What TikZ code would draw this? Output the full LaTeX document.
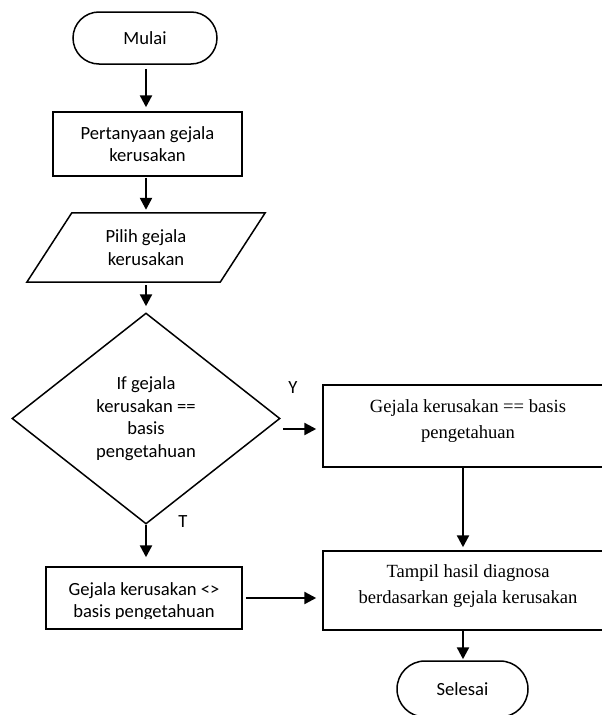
\documentclass[tikz,border=0pt]{standalone}
\usepackage{fontspec}
\setmainfont{Carlito}
\newfontfamily\tnr{Liberation Serif}
\usetikzlibrary{shapes.geometric,shapes.misc,arrows.meta,calc}
\begin{document}
\begin{tikzpicture}[x=1pt,y=-1pt,
  every node/.style={font=\fontsize{18.6}{22.5}\selectfont},
  shp/.style={draw=black, line width=1.5pt},
  boxl/.style={shp, rectangle, inner sep=0pt, align=center},
  term/.style={shp, rounded rectangle, inner sep=0pt},
  serif/.style={font=\tnr\fontsize{18.6}{26}\selectfont, align=center, inner sep=0pt},
  arr/.style={line width=2.4pt, -{Triangle[length=12pt,width=12pt]}}
]
\useasboundingbox (0,0) rectangle (602,715);
\clip (0,0) rectangle (602,715);
\fill[white] (0,0) rectangle (602,715);

% nodes
\node[term, minimum width=144pt, minimum height=52pt] (mulai) at (145,38) {Mulai};
\node[boxl, minimum width=189pt, minimum height=64pt] (q) at (147.5,144) {Pertanyaan gejala\\kerusakan};
\node[inner sep=0pt, minimum width=238pt, minimum height=69pt, align=center] (pilih) at (146,247.5) {Pilih gejala\\kerusakan};
\draw[shp] ([xshift=45pt]pilih.north west) -- (pilih.north east) -- ([xshift=-45pt]pilih.south east) -- (pilih.south west) -- cycle;
\node[shp, diamond, inner sep=0pt, minimum width=268pt, minimum height=211pt, align=center] (dec) at (146,418.5) {If gejala\\kerusakan ==\\basis\\pengetahuan};

\node[boxl, minimum width=290pt, minimum height=82pt] (yes) at (468,426) {};
\node[serif] (yestxt) at ([yshift=4.5pt]yes.center) {Gejala kerusakan == basis\\pengetahuan};

\node[boxl, minimum width=290pt, minimum height=79pt] (res) at (468,590.5) {};
\node[serif] (restxt) at ([yshift=4.5pt]res.center) {Tampil hasil diagnosa\\berdasarkan gejala kerusakan};

\node[boxl, minimum width=196pt, minimum height=62pt] (no) at (144,598) {};
\begin{scope}
  \clip (46,560) rectangle (242,618.5);
  \node[align=center, inner sep=0pt] (notxt) at (144,601.5) {Gejala kerusakan <>\\basis pengetahuan};
\end{scope}

\node[term, minimum width=131pt, minimum height=56pt] (sel) at (462.5,689) {Selesai};

% labels
\node (ylbl) at (293,388) {Y};
\node (tlbl) at (183,522) {T};

% connectors
\coordinate (rx) at (463,0);
\coordinate (ys) at (283,429);
\draw[arr, shorten <=4pt, shorten >=4pt] (mulai.south -| dec.north) -- (q.north -| dec.north);
\draw[arr, shorten <=1pt, shorten >=3pt] (q.south -| dec.north) -- (pilih.north -| dec.north);
\draw[arr, shorten <=3pt, shorten >=6pt] (pilih.south -| dec.north) -- (dec.north);
\draw[arr, shorten >=6pt] (ys) -- (ys -| yes.west);
\draw[arr, shorten >=3pt] (yes.south -| rx) -- (res.north -| rx);
\draw[arr, shorten >=9pt] (dec.south) -- (no.north -| dec.south);
\draw[arr, shorten <=3pt, shorten >=6pt] (no.east) -- (no.east -| res.west);
\draw[arr, shorten >=1pt] (res.south -| rx) -- (sel.north -| rx);
\end{tikzpicture}
\end{document}
